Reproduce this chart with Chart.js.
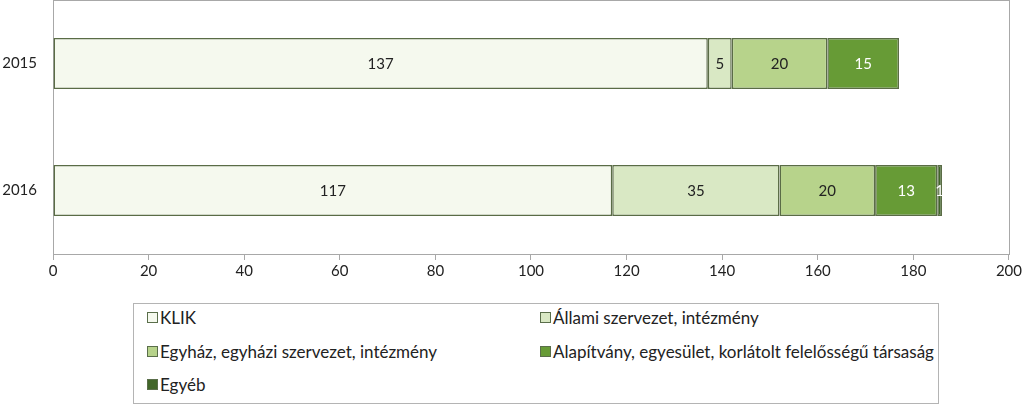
<!DOCTYPE html>
<html>
<head>
<meta charset="utf-8">
<script src="https://cdn.jsdelivr.net/npm/chart.js@4/dist/chart.umd.min.js"></script>
<style>
    body { margin: 0; background: #fff; font-family: Lato, 'Open Sans', sans-serif; }
    #wrap { position: relative; width: 1024px; height: 407px; }
    #chart-box { position: absolute; left: 0; top: 0; width: 1024px; height: 290px; }
    #legend {
        position: absolute; left: 133px; top: 303px; width: 806px; height: 101px;
        border: 1px solid #b4b4b4; box-sizing: border-box;
        font-size: 17px; color: #222;
    }
    .item { position: absolute; display: flex; align-items: center; white-space: nowrap; }
    .swatch { width: 9px; height: 9px; border: 1px solid #5a6e4a; margin-right: 2px; }
</style>
</head>
<body>
<div id="wrap">
    <div id="chart-box"><canvas id="chart"></canvas></div>
    <div id="legend"></div>
</div>
<script>
// Data
const years = ['2015', '2016'];
const seriesNames = ['KLIK', 'Állami szervezet, intézmény', 'Egyház, egyházi szervezet, intézmény',
    'Alapítvány, egyesület, korlátolt felelősségű társaság', 'Egyéb'];
const klik = [137, 117];
const allami = [5, 35];
const egyhaz = [20, 20];
const alapitvany = [15, 13];
const egyeb = [0, 1];
const xTicks = [0, 20, 40, 60, 80, 100, 120, 140, 160, 180, 200];

const fills = ['#f5f9ee', '#d9e8c4', '#b7d38b', '#679b36', '#416629'];
const labelColors = ['#222', '#222', '#222', '#fff', '#fff'];
const allValues = [klik, allami, egyhaz, alapitvany, egyeb];

document.addEventListener('DOMContentLoaded', () => {
    const ctx = document.getElementById('chart').getContext('2d');

    // frame round the plot area
    const frame = {
        id: 'frame',
        beforeDatasetsDraw(chart) {
            const a = chart.chartArea;
            const c = chart.ctx;
            c.save();
            c.strokeStyle = '#a8a8a8';
            c.lineWidth = 1;
            c.strokeRect(Math.round(a.left) + 0.5, Math.round(a.top) + 0.5,
                Math.round(a.right - a.left), Math.round(a.bottom - a.top));
            c.restore();
        }
    };

    // value labels in the middle of each segment
    const valueLabels = {
        id: 'valueLabels',
        afterDatasetsDraw(chart) {
            const c = chart.ctx;
            c.save();
            c.font = "15px Lato, 'Open Sans', sans-serif";
            c.textAlign = 'center';
            c.textBaseline = 'middle';
            chart.data.datasets.forEach((ds, i) => {
                const meta = chart.getDatasetMeta(i);
                meta.data.forEach((bar, j) => {
                    const v = ds.data[j];
                    if (!v) return;
                    c.fillStyle = labelColors[i];
                    c.fillText(String(v), (bar.x + bar.base) / 2, bar.y + 1);
                });
            });
            c.restore();
        }
    };

    new Chart(ctx, {
        type: 'bar',
        data: {
            labels: years,
            datasets: seriesNames.map((name, i) => ({
                label: name,
                data: allValues[i],
                backgroundColor: fills[i],
                borderColor: '#5a6c46',
                borderWidth: 1.5,
                borderSkipped: false,
                barPercentage: 0.4,
                categoryPercentage: 1
            }))
        },
        options: {
            indexAxis: 'y',
            responsive: true,
            maintainAspectRatio: false,
            animation: false,
            layout: { padding: { top: 0, right: 13, left: 0, bottom: 0 } },
            plugins: {
                legend: { display: false },
                tooltip: { enabled: false }
            },
            scales: {
                x: {
                    stacked: true,
                    min: 0,
                    max: 200,
                    afterBuildTicks(axis) { axis.ticks = xTicks.map(v => ({ value: v })); },
                    afterFit(axis) { axis.height = 36; },
                    grid: { drawOnChartArea: false, drawTicks: true, tickLength: 6, color: '#a8a8a8' },
                    border: { display: true, color: '#a8a8a8' },
                    ticks: { color: '#222', font: { family: "Lato, 'Open Sans', sans-serif", size: 15 }, padding: 2 }
                },
                y: {
                    stacked: true,
                    afterFit(axis) {
                        axis.width = 53;
                        axis.paddingTop = 0;
                        axis.paddingBottom = 0;
                    },
                    grid: { display: false, drawTicks: false },
                    border: { display: true, color: '#a8a8a8' },
                    ticks: { color: '#222', font: { family: "Lato, 'Open Sans', sans-serif", size: 15 }, padding: 16 }
                }
            }
        },
        plugins: [frame, valueLabels]
    });

    // legend drawn as html so it can sit in two columns
    const legend = document.getElementById('legend');
    const spots = [[13, 13], [406, 13], [13, 47], [406, 47], [13, 80]];
    seriesNames.forEach((name, i) => {
        const item = document.createElement('div');
        item.className = 'item';
        item.style.left = spots[i][0] + 'px';
        item.style.top = spots[i][1] - 10 + 'px';
        item.innerHTML = `<span class="swatch" style="background:${fills[i]}"></span><span>${name}</span>`;
        legend.appendChild(item);
    });
});
</script>
</body>
</html>
